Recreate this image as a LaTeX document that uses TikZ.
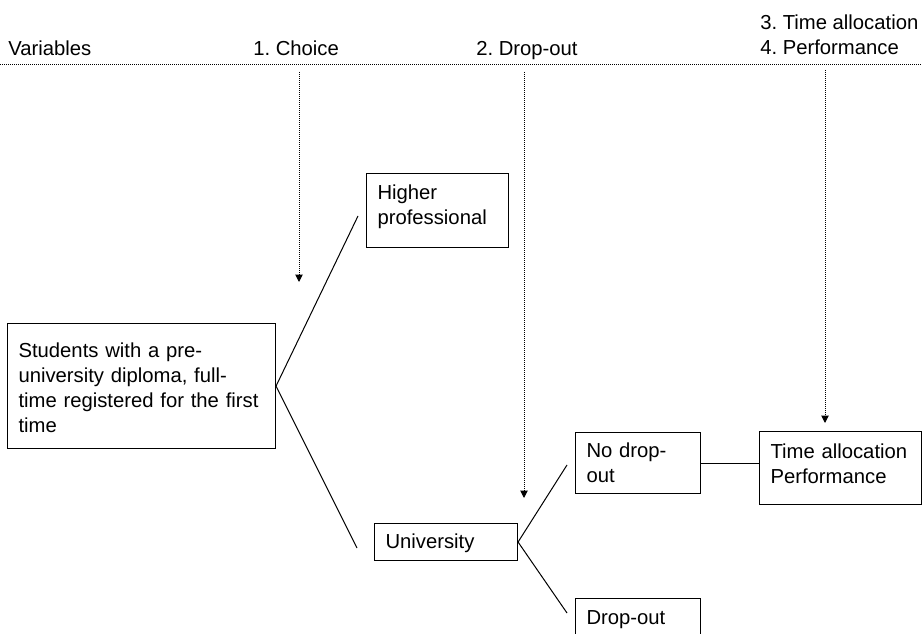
\documentclass[tikz,border=0pt]{standalone}
\usepackage{fontspec}
\setmainfont{Liberation Sans}
\usetikzlibrary{arrows.meta}
\frenchspacing
\begin{document}
\begin{tikzpicture}[x=0.75pt,y=-0.75pt,
  font=\fontsize{15.2}{18.75}\selectfont,
  box/.style={draw, line width=0.8pt, anchor=north west, align=left, inner xsep=8.25pt, inner ysep=0pt},
  link/.style={line width=0.75pt},
  dots/.style={line width=0.75pt, dash pattern=on 0.75pt off 0.75pt},
  dotarrow/.style={dots, -{Triangle[width=5.5pt,length=5.5pt]}},
  hdr/.style={anchor=base west, inner sep=0pt}]
\useasboundingbox (0,0) rectangle (922,634);
\clip (0,0) rectangle (922,634);

% header
\node[hdr] (hvar) at (8,56) {Variables};
\node[hdr] (hcho) at (253,56) {1. Choice};
\node[hdr] (hdro) at (476,56) {2. Drop-out};
\node[hdr] (htime) at (760,30) {3. Time allocation};
\node[hdr] (hperf) at (760,55) {4. Performance};
\coordinate (rl) at (0,65);
\coordinate (rr) at (922,65);
\draw[dots] (rl) -- (rr);

% boxes
\node[box, text width=184.5pt, text height=25.5pt, text depth=68.25pt] (stud) at (7,323)
  {Students with a pre-\\university diploma, full-\\time registered for the first\\time};
\node[box, text width=90pt, text height=19.5pt, text depth=36pt] (hp) at (366,173)
  {Higher\\professional};
\node[box, text width=90.75pt, text height=18.75pt, text depth=9pt] (uni) at (374,523)
  {University};
\node[box, text width=77.25pt, text height=18.75pt, text depth=27pt] (nd) at (575,432)
  {No drop-\\out};
\node[box, text width=105pt, text height=20.25pt, text depth=34.5pt] (ta) at (759,431)
  {Time allocation\\Performance};
\node[box, text width=77.25pt, text height=19.5pt, text depth=26.25pt] (do) at (575,598)
  {Drop-out};

% connector ends
\coordinate (hpL) at (358,216);
\coordinate (uniL) at (357,548);
\coordinate (ndL) at (567,465);
\coordinate (doL) at (567,613);

\draw[link] (stud.east) -- (hpL);
\draw[link] (stud.east) -- (uniL);
\draw[link] (uni.east) -- (ndL);
\draw[link] (uni.east) -- (doL);
\draw[link] (nd.east) -- (nd.east -| ta.west);

% dotted arrows
\coordinate (a1s) at (299,72); \coordinate (a1e) at (299,282);
\coordinate (a2s) at (524,72); \coordinate (a2e) at (524,498);
\coordinate (a3s) at (825,70); \coordinate (a3e) at (825,423);
\draw[dotarrow] (a1s) -- (a1e);
\draw[dotarrow] (a2s) -- (a2e);
\draw[dotarrow] (a3s) -- (a3e);
\end{tikzpicture}
\end{document}
